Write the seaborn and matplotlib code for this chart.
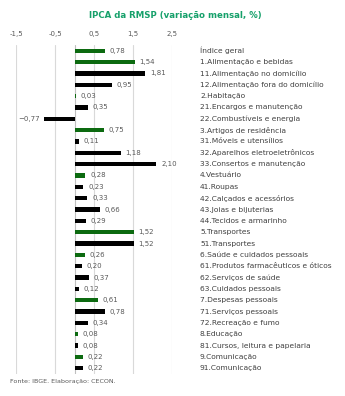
import matplotlib
matplotlib.use("Agg")
import matplotlib.pyplot as plt
import matplotlib.transforms as mtransforms
import seaborn as sns
import pandas as pd

categories = [
    "Índice geral",
    "1.Alimentação e bebidas",
    "11.Alimentação no domicílio",
    "12.Alimentação fora do domicílio",
    "2.Habitação",
    "21.Encargos e manutenção",
    "22.Combustíveis e energia",
    "3.Artigos de residência",
    "31.Móveis e utensílios",
    "32.Aparelhos eletroeletrônicos",
    "33.Consertos e manutenção",
    "4.Vestuário",
    "41.Roupas",
    "42.Calçados e acessórios",
    "43.Joias e bijuterias",
    "44.Tecidos e armarinho",
    "5.Transportes",
    "51.Transportes",
    "6.Saúde e cuidados pessoais",
    "61.Produtos farmacêuticos e óticos",
    "62.Serviços de saúde",
    "63.Cuidados pessoais",
    "7.Despesas pessoais",
    "71.Serviços pessoais",
    "72.Recreação e fumo",
    "8.Educação",
    "81.Cursos, leitura e papelaria",
    "9.Comunicação",
    "91.Comunicação",
]
values = [0.78, 1.54, 1.81, 0.95, 0.03, 0.35, -0.77, 0.75, 0.11, 1.18, 2.10,
          0.28, 0.23, 0.33, 0.66, 0.29, 1.52, 1.52, 0.26, 0.20, 0.37, 0.12,
          0.61, 0.78, 0.34, 0.08, 0.08, 0.22, 0.22]
groups = ["grupo", "grupo", "item", "item", "grupo", "item", "item", "grupo",
          "item", "item", "item", "grupo", "item", "item", "item", "item",
          "grupo", "item", "grupo", "item", "item", "item", "grupo", "item",
          "item", "grupo", "item", "grupo", "item"]
xticks = [-1.5, -0.5, 0.5, 1.5, 2.5]

df = pd.DataFrame({"categoria": categories, "valor": values, "tipo": groups})

sns.set_theme(style="white")
plt.rcParams["font.family"] = ["DejaVu Sans"]

fig = plt.figure(figsize=(3.45, 3.96), dpi=100)
ax = fig.add_axes([16 / 345, 1 - 374 / 396, (172 - 16) / 345, (374 - 45) / 396])

sns.barplot(data=df, x="valor", y="categoria", hue="tipo",
            palette={"grupo": "#0c6a10", "item": "#000000"},
            dodge=False, width=0.38, orient="h", legend=False, ax=ax,
            saturation=1, linewidth=0)

ax.set_xlim(-1.5, 2.5)
ax.set_ylim(len(categories) - 0.5, -0.5)
ax.set_xticks(xticks)
ax.set_xticklabels([f"{t:.1f}".replace(".", ",") for t in xticks],
                   fontsize=5, color="#595959")
ax.xaxis.tick_top()
ax.tick_params(axis="x", length=0, pad=6)
ax.set_yticks([])
ax.set_xlabel("")
ax.set_ylabel("")
for s in ax.spines.values():
    s.set_visible(False)
ax.grid(axis="x", color="#d9d9d9", linewidth=0.8)
ax.axvline(0, color="#bfbfbf", linewidth=0.8, zorder=0.5)
ax.set_axisbelow(True)

# value labels next to each bar
for i, v in enumerate(values):
    txt = f"{v:.2f}".replace(".", ",")
    if v < 0:
        ax.text(v - 0.12, i, txt.replace("-", "\u2212"), ha="right", va="center",
                fontsize=5, color="#595959")
    else:
        ax.text(v + 0.12, i, txt, ha="left", va="center",
                fontsize=5, color="#595959")

# category names in a column to the right of the plot
trans = mtransforms.blended_transform_factory(fig.transFigure, ax.transData)
for i, c in enumerate(categories):
    fig.text(200 / 345, i, c, transform=trans, ha="left", va="center",
             fontsize=5.4, color="#404040")

fig.text(175 / 345, 1 - 16 / 396, "IPCA da RMSP (variação mensal, %)",
         ha="center", va="center", fontsize=6.2, fontweight="bold",
         color="#15a06a")
fig.text(10 / 345, 1 - 382 / 396, "Fonte: IBGE. Elaboração: CECON.",
         ha="left", va="center", fontsize=4.6, color="#595959")

fig.savefig("out.png", dpi=100)
